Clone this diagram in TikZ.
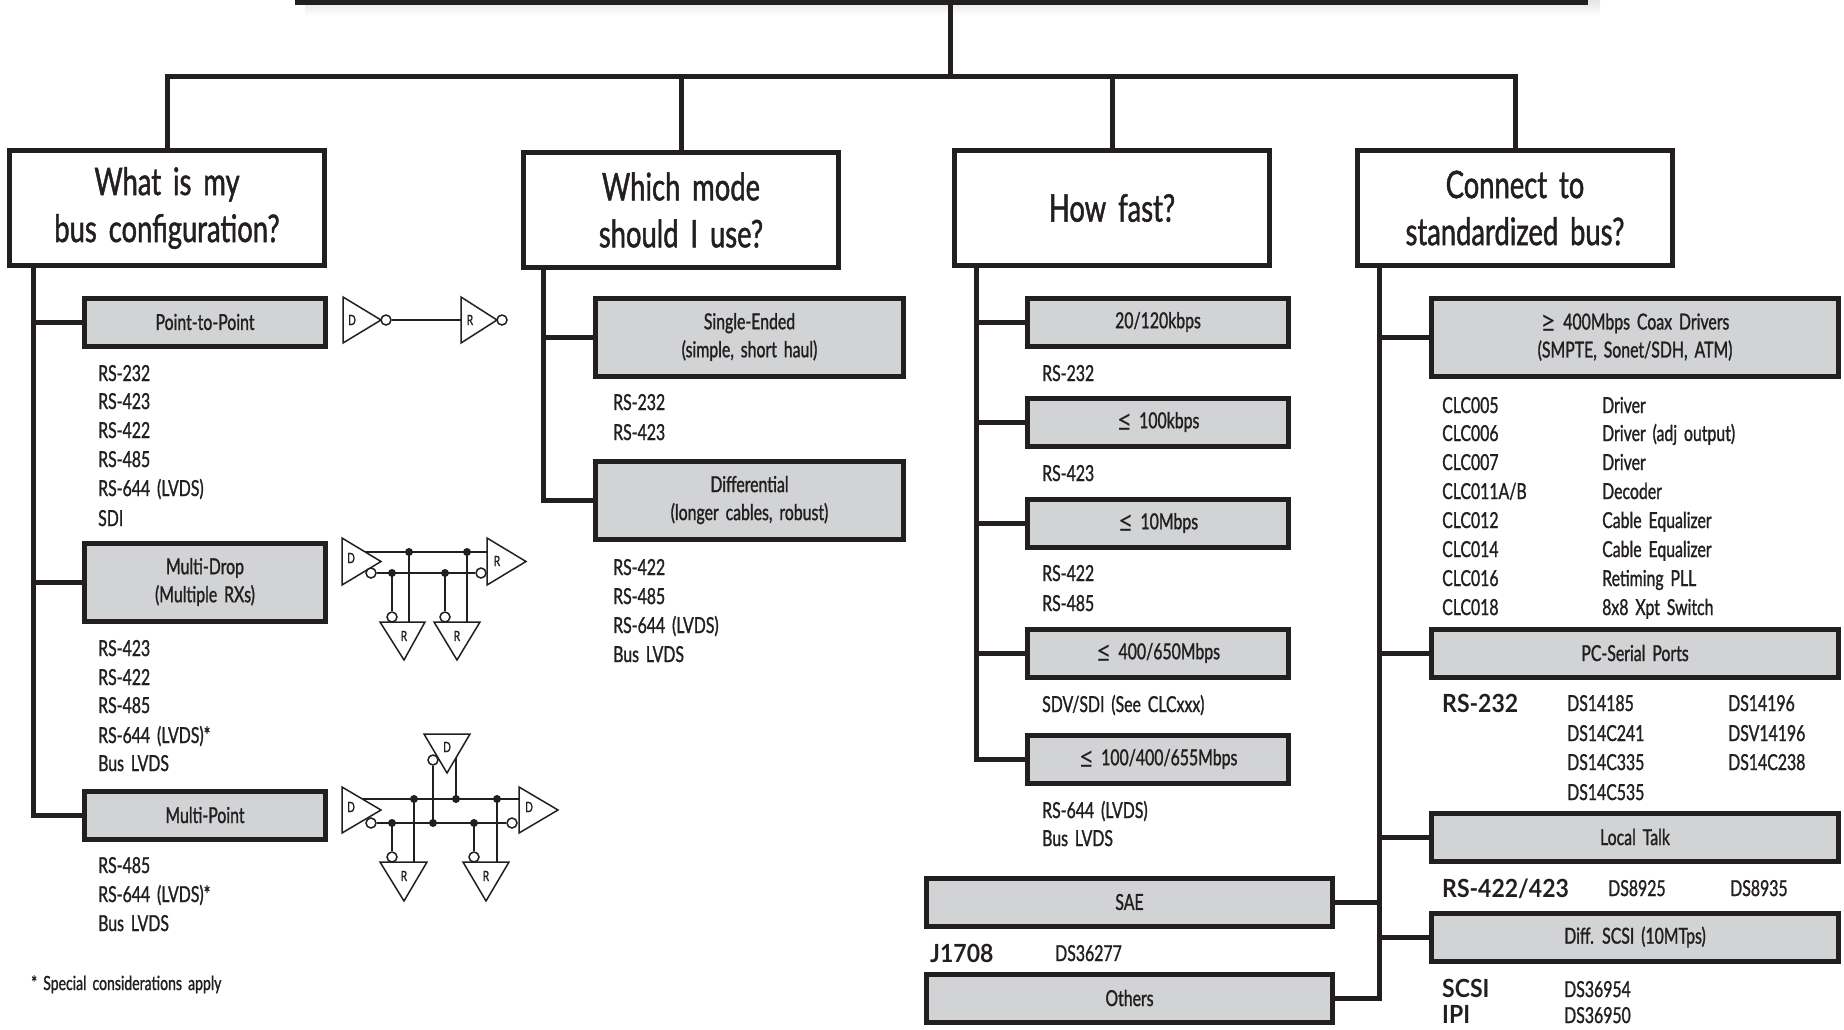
\documentclass[tikz,border=0pt]{standalone}
\usepackage{fontspec}
\setmainfont{Lato}[FakeStretch=0.72,WordSpace=1.7,FakeBold=1.2]
\newfontfamily\boldfam{Lato}[FakeStretch=0.92]
\newfontfamily\symfam{Lato}[FakeStretch=0.9]
\newcommand{\mle}{\raisebox{-3pt}{\symfam\fontsize{30}{28}\selectfont ≤}}
\newcommand{\mge}{\raisebox{-3pt}{\symfam\fontsize{30}{28}\selectfont ≥}}
\definecolor{ink}{HTML}{231F20}
\definecolor{boxgray}{HTML}{D1D3D4}
\definecolor{shade}{HTML}{808285}
\begin{document}
\begin{tikzpicture}[x=1pt,y=-1pt,line join=miter,
  conn/.style={draw=ink,line width=5pt},
  mainbox/.style={draw=ink,line width=5pt,fill=white,minimum width=315pt,minimum height=115pt,inner sep=0pt,align=center,text=ink,font=\fontsize{38}{47}\selectfont},
  subbox/.style={draw=ink,line width=5pt,fill=boxgray,minimum height=48pt,inner sep=0pt,align=center,text=ink,font=\fontsize{22}{28}\selectfont},
  tallbox/.style={subbox,minimum height=78pt},
  item/.style={anchor=base west,inner sep=0pt,text=ink,font=\fontsize{22}{28}\selectfont},
  bolditem/.style={anchor=base west,inner sep=0pt,text=ink,font=\boldfam\bfseries\fontsize{25}{28}\selectfont},
  gate/.style={draw=ink,line width=1.5pt,fill=white},
  wire/.style={draw=ink,line width=2.2pt},
  thinwire/.style={draw=ink,line width=1.5pt},
  gl/.style={inner sep=0pt,text=ink,font=\fontsize{14}{14}\selectfont},
  bubble/.style={circle,draw=ink,line width=1.5pt,fill=white,minimum size=10pt,inner sep=0pt},
  jdot/.style={circle,fill=ink,minimum size=8pt,inner sep=0pt},
]
\useasboundingbox (0,0) rectangle (1844,1029);

% ---------- title box (cut off at top) ----------
\fill[shade] (305,-60) rectangle (1600,16);
\node[draw=ink,line width=5pt,fill=white,minimum width=1288pt,minimum height=62pt,inner sep=0pt] (title) at (941.5,-28.5) {};

% ---------- main question boxes ----------
\node[mainbox] (b1) at (167,208) {What is my\\bus configuration?};
\node[mainbox] (b2) at (681,210) {Which mode\\should I use?};
\node[mainbox] (b3) at (1112,208) {How fast?};
\node[mainbox] (b4) at (1515,208) {Connect to\\standardized bus?};

\coordinate (hub) at (950,76);
\draw[conn] (title.south -| hub) -- (hub);
\draw[conn] (b1.north) |- (b4.north |- hub) -- (b4.north);
\draw[conn] (b2.north) -- (b2.north |- hub);
\draw[conn] (b3.north) -- (b3.north |- hub);

% ---------- column 1 ----------
\node[subbox,minimum width=241pt] (p2p) at (205,322) {Point-to-Point};
\node[tallbox,minimum width=241pt] (md) at (205,582) {Multi-Drop\\(Multiple RXs)};
\node[subbox,minimum width=241pt] (mp) at (205,815) {Multi-Point};
\coordinate (c1) at (33,0);
\draw[conn] (b1.south -| c1) |- (mp.west);
\draw[conn] (c1 |- p2p.west) -- (p2p.west);
\draw[conn] (c1 |- md.west) -- (md.west);

\node[item] (l11) at (98,381) {RS-232};
\node[item] (l12) at (98,409) {RS-423};
\node[item] (l13) at (98,438) {RS-422};
\node[item] (l14) at (98,467) {RS-485};
\node[item] (l15) at (98,496) {RS-644 (LVDS)};
\node[item] (l16) at (98,526) {SDI};
\node[item] (l21) at (98,656) {RS-423};
\node[item] (l22) at (98,685) {RS-422};
\node[item] (l23) at (98,713) {RS-485};
\node[item] (l24) at (98,743) {RS-644 (LVDS)*};
\node[item] (l25) at (98,771) {Bus LVDS};
\node[item] (l31) at (98,873) {RS-485};
\node[item] (l32) at (98,902) {RS-644 (LVDS)*};
\node[item] (l33) at (98,931) {Bus LVDS};
\node[item,font=\fontsize{19.5}{22}\selectfont] (foot) at (31,990) {* Special considerations apply};

% point-to-point circuit
\node[bubble] (pb1) at (386,320) {};
\node[bubble] (pb2) at (502,320) {};
\draw[thinwire] (pb1) -- (461,320);
\draw[gate] (343,297) -- (343,343) -- (381,320) -- cycle;
\draw[gate] (461,297) -- (461,343) -- (497,320) -- cycle;
\node[gl] (pdl) at (352,320) {D};
\node[gl] (prl) at (470,320) {R};

% multi-drop circuit
\draw[gate] (342,538) -- (342,585) -- (381,561.5) -- cycle;
\draw[gate] (487,538) -- (487,585) -- (526,561.5) -- cycle;
\draw[gate] (380,622) -- (425,622) -- (404,660) -- cycle;
\draw[gate] (434,622) -- (480,622) -- (457,660) -- cycle;
\node[bubble] (mb1) at (371,573) {};
\node[bubble] (mb2) at (481,573) {};
\node[bubble] (mb3) at (392,617) {};
\node[bubble] (mb4) at (445,617) {};
\node[jdot] (mu1) at (409,552) {};
\node[jdot] (mu2) at (467,552) {};
\node[jdot] (ml1) at (392,573) {};
\node[jdot] (ml2) at (445,573) {};
\draw[wire] (365,552) -- (487,552);
\draw[wire] (mb1) -- (mb2);
\draw[wire] (mu1.center) -- (409,622);
\draw[wire] (mu2.center) -- (467,622);
\draw[wire] (ml1.center) -- (mb3);
\draw[wire] (ml2.center) -- (mb4);
\node[gl] (mdl) at (351,558) {D};
\node[gl] (mrl) at (497,561) {R};
\node[gl] (mr1) at (404,636) {R};
\node[gl] (mr2) at (457,636) {R};

% multi-point circuit
\draw[gate] (342,787) -- (342,833) -- (381,810) -- cycle;
\draw[gate] (519,787) -- (519,833) -- (558,810) -- cycle;
\draw[gate] (424,734) -- (470,734) -- (447,773) -- cycle;
\draw[gate] (380,862) -- (427,862) -- (404,901) -- cycle;
\draw[gate] (463,862) -- (509,862) -- (486,901) -- cycle;
\node[bubble] (pp1) at (371,823) {};
\node[bubble] (pp2) at (512,823) {};
\node[bubble] (pp3) at (433,760) {};
\node[bubble] (pp4) at (392,857) {};
\node[bubble] (pp5) at (474,857) {};
\node[jdot] (pu1) at (414,799) {};
\node[jdot] (pu2) at (456,799) {};
\node[jdot] (pu3) at (497,799) {};
\node[jdot] (pl1) at (392,823) {};
\node[jdot] (pl2) at (433,823) {};
\node[jdot] (pl3) at (474,823) {};
\draw[wire] (362,799) -- (519,799);
\draw[wire] (pp1) -- (pp2);
\draw[wire] (pp3) -- (pl2.center);
\draw[wire] (456,758) -- (pu2.center);
\draw[wire] (pl1.center) -- (pp4);
\draw[wire] (pu1.center) -- (414,862);
\draw[wire] (pl3.center) -- (pp5);
\draw[wire] (pu3.center) -- (497,862);
\node[gl] (pdl1) at (351,807) {D};
\node[gl] (pdl2) at (529,807) {D};
\node[gl] (pdl3) at (447,747) {D};
\node[gl] (prl1) at (404,876) {R};
\node[gl] (prl2) at (486,876) {R};

% ---------- column 2 ----------
\node[tallbox,minimum width=308pt] (se) at (749.5,337) {Single-Ended\\(simple, short haul)};
\node[tallbox,minimum width=308pt] (df) at (749.5,500) {Differential\\(longer cables, robust)};
\coordinate (c2) at (543,0);
\draw[conn] (b2.south -| c2) |- (df.west);
\draw[conn] (c2 |- se.west) -- (se.west);
\node[item] (m11) at (613,410) {RS-232};
\node[item] (m12) at (613,440) {RS-423};
\node[item] (m21) at (613,575) {RS-422};
\node[item] (m22) at (613,604) {RS-485};
\node[item] (m23) at (613,633) {RS-644 (LVDS)};
\node[item] (m24) at (613,662) {Bus LVDS};

% ---------- column 3 ----------
\node[subbox,minimum width=261pt] (s1) at (1158,322) {20/120kbps};
\node[subbox,minimum width=261pt] (s2) at (1158,422) {\mle\ 100kbps};
\node[subbox,minimum width=261pt] (s3) at (1158,523) {\mle\ 10Mbps};
\node[subbox,minimum width=261pt] (s4) at (1158,653) {\mle\ 400/650Mbps};
\node[subbox,minimum width=261pt] (s5) at (1158,759) {\mle\ 100/400/655Mbps};
\coordinate (c3) at (976,0);
\draw[conn] (b3.south -| c3) |- (s5.west);
\draw[conn] (c3 |- s1.west) -- (s1.west);
\draw[conn] (c3 |- s2.west) -- (s2.west);
\draw[conn] (c3 |- s3.west) -- (s3.west);
\draw[conn] (c3 |- s4.west) -- (s4.west);
\node[item] (f1) at (1042,381) {RS-232};
\node[item] (f2) at (1042,481) {RS-423};
\node[item] (f3) at (1042,581) {RS-422};
\node[item] (f4) at (1042,611) {RS-485};
\node[item] (f5) at (1042,712) {SDV/SDI (See CLCxxx)};
\node[item] (f6) at (1042,818) {RS-644 (LVDS)};
\node[item] (f7) at (1042,846) {Bus LVDS};

\node[subbox,minimum width=406pt] (sae) at (1129.5,902) {SAE};
\node[subbox,minimum width=406pt] (oth) at (1129.5,998) {Others};
\node[bolditem] (j1) at (930,962) {J1708};
\node[item] (j2) at (1055,961) {DS36277};

% ---------- column 4 ----------
\node[tallbox,minimum width=407pt] (coax) at (1635,337) {\mge\ 400Mbps Coax Drivers\\(SMPTE, Sonet/SDH, ATM)};
\node[subbox,minimum width=407pt] (pcs) at (1635,653) {PC-Serial Ports};
\node[subbox,minimum width=407pt] (lt) at (1635,837) {Local Talk};
\node[subbox,minimum width=407pt] (scsi) at (1635,937) {Diff. SCSI (10MTps)};
\coordinate (c4) at (1379,0);
\draw[conn] (b4.south -| c4) |- (oth.east);
\draw[conn] (c4 |- coax.west) -- (coax.west);
\draw[conn] (c4 |- pcs.west) -- (pcs.west);
\draw[conn] (c4 |- lt.west) -- (lt.west);
\draw[conn] (c4 |- scsi.west) -- (scsi.west);
\draw[conn] (c4 |- sae.east) -- (sae.east);

\node[item] (k1) at (1442,413) {CLC005};
\node[item] (k2) at (1442,441) {CLC006};
\node[item] (k3) at (1442,470) {CLC007};
\node[item] (k4) at (1442,499) {CLC011A/B};
\node[item] (k5) at (1442,528) {CLC012};
\node[item] (k6) at (1442,557) {CLC014};
\node[item] (k7) at (1442,586) {CLC016};
\node[item] (k8) at (1442,615) {CLC018};
\node[item] (d1) at (1602,413) {Driver};
\node[item] (d2) at (1602,441) {Driver (adj output)};
\node[item] (d3) at (1602,470) {Driver};
\node[item] (d4) at (1602,499) {Decoder};
\node[item] (d5) at (1602,528) {Cable Equalizer};
\node[item] (d6) at (1602,557) {Cable Equalizer};
\node[item] (d7) at (1602,586) {Retiming PLL};
\node[item] (d8) at (1602,615) {8x8 Xpt Switch};

\node[bolditem] (r1) at (1442,712) {RS-232};
\node[item] (r2) at (1567,711) {DS14185};
\node[item] (r3) at (1567,741) {DS14C241};
\node[item] (r4) at (1567,770) {DS14C335};
\node[item] (r5) at (1567,800) {DS14C535};
\node[item] (r6) at (1728,711) {DS14196};
\node[item] (r7) at (1728,741) {DSV14196};
\node[item] (r8) at (1728,770) {DS14C238};

\node[bolditem] (q1) at (1442,897) {RS-422/423};
\node[item] (q2) at (1608,896) {DS8925};
\node[item] (q3) at (1730,896) {DS8935};

\node[bolditem] (z1) at (1442,997) {SCSI};
\node[item] (z2) at (1564,997) {DS36954};
\node[bolditem] (z3) at (1442,1023) {IPI};
\node[item] (z4) at (1564,1023) {DS36950};
\end{tikzpicture}
\end{document}
